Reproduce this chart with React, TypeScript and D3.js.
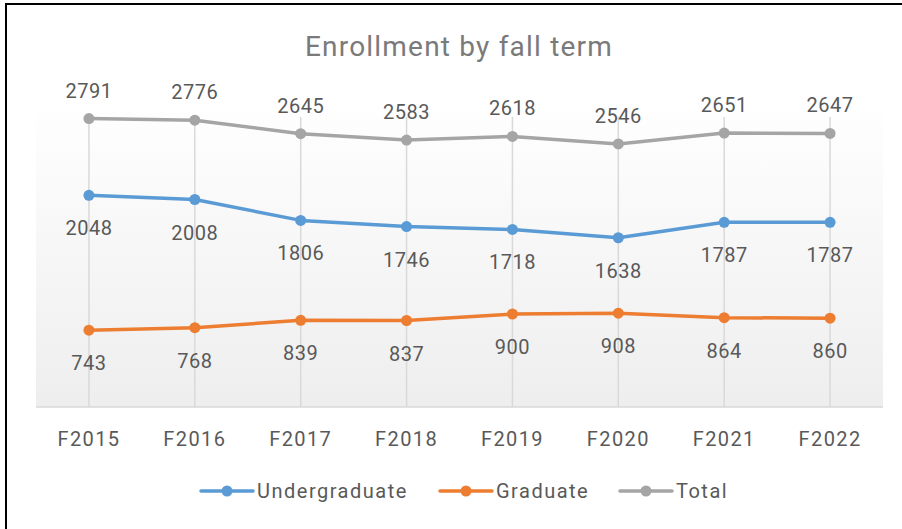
import * as d3 from "d3";
import React from "react";

const W = 902;
const H = 529;

const terms = ["F2015", "F2016", "F2017", "F2018", "F2019", "F2020", "F2021", "F2022"];
const undergraduate = [2048, 2008, 1806, 1746, 1718, 1638, 1787, 1787];
const graduate = [743, 768, 839, 837, 900, 908, 864, 860];
const total = [2791, 2776, 2645, 2583, 2618, 2546, 2651, 2647];

const seriesNames = ["Undergraduate", "Graduate", "Total"];
const seriesColors = ["#5B9BD5", "#ED7D31", "#A5A5A5"];
const seriesData = [undergraduate, graduate, total];
const labelAbove = [false, false, true];

const plot = { left: 36, right: 883, top: 97, bottom: 407 };
const font = "Roboto, 'Open Sans', sans-serif";
const textColor = "#595959";

export default function App() {
    const x = d3.scaleBand<string>().domain(terms).range([plot.left, plot.right]);
    const y = d3.scaleLinear().domain([0, 3000]).range([plot.bottom, plot.top]);
    const cx = (t: string) => (x(t) ?? 0) + x.bandwidth() / 2;

    const line = d3
        .line<number>()
        .x((_, i) => cx(terms[i]))
        .y((d) => y(d));

    // legend: x where each entry's line starts
    const legendX = [201, 440, 620];

    return (
        <svg
            width={W}
            height={H}
            style={{ position: "absolute", left: 0, top: 0, background: "#fff" }}
            fontFamily={font}
        >
            <defs>
                <linearGradient id="plotGrad" x1="0" y1="0" x2="0" y2="1">
                    <stop offset="0%" stopColor="#ffffff" />
                    <stop offset="100%" stopColor="#eeeeee" />
                </linearGradient>
            </defs>

            {/* frame */}
            <line x1={5} x2={W} y1={4} y2={4} stroke="#000" strokeWidth={2} />
            <line x1={6} x2={6} y1={3} y2={H} stroke="#000" strokeWidth={2} />

            <text
                x={459}
                y={56}
                textAnchor="middle"
                fontSize={28}
                letterSpacing={1.2}
                fill="#7a7a7a"
            >
                Enrollment by fall term
            </text>

            {/* plot area */}
            <rect
                x={plot.left}
                y={plot.top}
                width={plot.right - plot.left}
                height={plot.bottom - plot.top}
                fill="url(#plotGrad)"
            />

            {/* vertical gridlines */}
            {terms.map((t) => (
                <line
                    key={t}
                    x1={cx(t)}
                    x2={cx(t)}
                    y1={y(3000) + 20}
                    y2={plot.bottom}
                    stroke="#d9d9d9"
                    strokeWidth={1.5}
                />
            ))}
            <line
                x1={plot.left}
                x2={plot.right}
                y1={plot.bottom}
                y2={plot.bottom}
                stroke="#d9d9d9"
                strokeWidth={1.5}
            />

            {/* category labels */}
            {terms.map((t) => (
                <text
                    key={t}
                    x={cx(t)}
                    y={446}
                    textAnchor="middle"
                    fontSize={20}
                    letterSpacing={1.4}
                    fill={textColor}
                >
                    {t}
                </text>
            ))}

            {/* series */}
            {seriesData.map((vals, s) => (
                <g key={seriesNames[s]}>
                    <path
                        d={line(vals) ?? ""}
                        fill="none"
                        stroke={seriesColors[s]}
                        strokeWidth={3.5}
                        strokeLinejoin="round"
                        strokeLinecap="round"
                    />
                    {vals.map((v, i) => (
                        <circle key={i} cx={cx(terms[i])} cy={y(v)} r={5.5} fill={seriesColors[s]} />
                    ))}
                    {vals.map((v, i) => (
                        <text
                            key={"l" + i}
                            x={cx(terms[i])}
                            y={labelAbove[s] ? y(v) - 21 : y(v) + 40}
                            textAnchor="middle"
                            fontSize={20}
                            letterSpacing={0.5}
                            fill={textColor}
                        >
                            {v}
                        </text>
                    ))}
                </g>
            ))}

            {/* legend */}
            {seriesNames.map((name, s) => (
                <g key={name}>
                    <line
                        x1={legendX[s]}
                        x2={legendX[s] + 52}
                        y1={491}
                        y2={491}
                        stroke={seriesColors[s]}
                        strokeWidth={3.5}
                        strokeLinecap="round"
                    />
                    <circle cx={legendX[s] + 26} cy={491} r={5.5} fill={seriesColors[s]} />
                    <text x={legendX[s] + 56} y={498} fontSize={20} letterSpacing={1.5} fill={textColor}>
                        {name}
                    </text>
                </g>
            ))}
        </svg>
    );
}
